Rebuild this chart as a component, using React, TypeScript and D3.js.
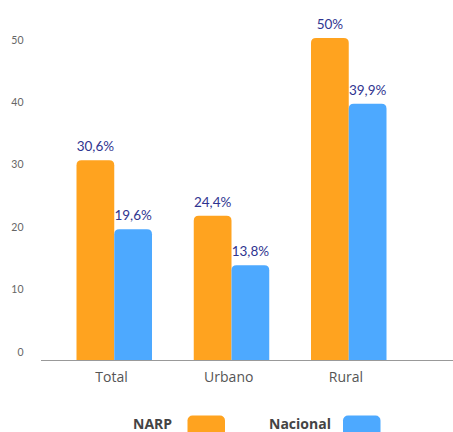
import React, { useEffect, useRef } from 'react'
import * as d3 from 'd3'

const categories = ['Total', 'Urbano', 'Rural']
const seriesNames = ['NARP', 'Nacional']
// bar heights as drawn in the picture
const narpValues = [31.0, 22.4, 50.0]
const nacionalValues = [20.3, 14.7, 39.8]
// printed labels
const narpLabels = ['30,6%', '24,4%', '50%']
const nacionalLabels = ['19,6%', '13,8%', '39,9%']
const yTicks = [0, 10, 20, 30, 40, 50]

const colors = ['#FFA31F', '#4DA9FF']

const App: React.FC = () => {
    const chartRef = useRef<SVGSVGElement | null>(null)

    useEffect(() => {
        if (!chartRef.current) return
        const width = 453
        const height = 432
        const font = 'Lato, "Noto Sans", sans-serif'
        const labelFont = '"Open Sans", Lato, sans-serif'

        const svg = d3.select(chartRef.current)
        svg.selectAll('*').remove()
        svg.attr('width', width).attr('height', height)

        const baseline = 360
        const y = d3.scaleLinear().domain([0, 50]).range([baseline, 38])
        // tick labels sit on their own grid in the picture
        const yTickPos = d3.scaleLinear().domain([0, 50]).range([352, 40])

        const x = d3.scalePoint<string>().domain(categories).range([114.5, 349])
        const sub = d3.scaleBand<string>().domain(seriesNames).range([-38, 37.5])

        // y tick labels
        svg.append('g')
            .selectAll('text')
            .data(yTicks)
            .join('text')
            .attr('x', 23.5)
            .attr('y', d => yTickPos(d))
            .attr('dy', '0.35em')
            .attr('text-anchor', 'end')
            .attr('fill', '#666')
            .attr('font-size', '10.5px')
            .attr('font-family', font)
            .text(d => d)

        const rows = categories.map((c, i) => ({
            cat: c,
            bars: [
                { key: seriesNames[0], value: narpValues[i], label: narpLabels[i] },
                { key: seriesNames[1], value: nacionalValues[i], label: nacionalLabels[i] }
            ]
        }))

        const topRounded = (x0: number, y0: number, w: number, h: number, r: number) =>
            `M${x0},${y0 + h}V${y0 + r}Q${x0},${y0} ${x0 + r},${y0}H${x0 + w - r}Q${x0 + w},${y0} ${x0 + w},${y0 + r}V${y0 + h}Z`

        const groups = svg.append('g')
            .selectAll('g')
            .data(rows)
            .join('g')
            .attr('transform', d => `translate(${x(d.cat)},0)`)

        groups.selectAll('path')
            .data(d => d.bars)
            .join('path')
            .attr('d', d => topRounded(sub(d.key) as number, y(d.value), sub.bandwidth(), baseline - y(d.value), 5))
            .attr('fill', (d, i) => colors[i])

        groups.selectAll('text')
            .data(d => d.bars)
            .join('text')
            .attr('x', d => (sub(d.key) as number) + sub.bandwidth() / 2)
            .attr('y', d => y(d.value) - 9)
            .attr('text-anchor', 'middle')
            .attr('fill', '#2F3490')
            .attr('font-size', '13.5px')
            .attr('font-family', font)
            .text(d => d.label)

        // x axis
        svg.append('line')
            .attr('x1', 41).attr('x2', width)
            .attr('y1', baseline + 0.5).attr('y2', baseline + 0.5)
            .attr('stroke', '#999').attr('stroke-width', 1)

        svg.append('g')
            .selectAll('text')
            .data(categories)
            .join('text')
            .attr('x', d => (x(d) as number) - 3)
            .attr('y', 382)
            .attr('text-anchor', 'middle')
            .attr('fill', '#555')
            .attr('font-size', '14px')
            .attr('font-family', labelFont)
            .text(d => d)

        // legend
        const legendX = [133, 269]
        const swatchX = [187.5, 343]
        const legend = svg.append('g')
            .selectAll('g')
            .data(seriesNames)
            .join('g')
        legend.append('text')
            .attr('x', (d, i) => legendX[i])
            .attr('y', 428.5)
            .attr('fill', '#444')
            .attr('font-size', '14px')
            .attr('font-weight', '700')
            .attr('font-family', labelFont)
            .text(d => d)
        legend.append('rect')
            .attr('x', (d, i) => swatchX[i])
            .attr('y', 415.5)
            .attr('width', 37.5)
            .attr('height', 26)
            .attr('rx', 5)
            .attr('fill', (d, i) => colors[i])
    }, [])

    return <svg ref={chartRef} style={{ position: 'absolute', left: 0, top: 0, background: '#fff' }}></svg>
}

export default App
